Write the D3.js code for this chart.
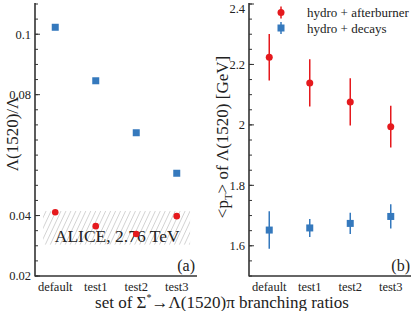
<!DOCTYPE html>
<html><head><meta charset="utf-8">
<script src="https://cdn.jsdelivr.net/npm/d3@7"></script>
<style>
body{margin:0;background:#fff;}
text{font-family:"Liberation Serif","Times New Roman",serif;fill:#222;}
</style></head>
<body>
<svg id="c" width="415" height="311"></svg>
<script>
const categories = ["default","test1","test2","test3"];
// panel (a): ratio Λ(1520)/Λ
const ratioDecays = [0.1023, 0.0846, 0.0674, 0.0540];
const ratioAfterburner = [0.0411, 0.0365, 0.0339, 0.0398];
const aliceBand = [0.0304, 0.0415];
const aliceLabel = "ALICE, 2.76 TeV";
const ratioMajorTicks = [0.02, 0.04, 0.08, 0.1];
// panel (b): mean pT
const ptAfterburner = [2.224, 2.139, 2.076, 1.994];
const ptAfterburnerErr = [0.077, 0.078, 0.078, 0.069];
const ptDecays = [1.652, 1.659, 1.674, 1.697];
const ptDecaysErr = [0.062, 0.030, 0.035, 0.040];
const ptMajorTicks = [1.6, 1.8, 2, 2.2, 2.4];
const legendLabels = ["hydro + afterburner", "hydro + decays"];

const RED = "#e5191d", BLUE = "#3579bd", AX = "#333";
const svg = d3.select("#c");

// hatch pattern
const defs = svg.append("defs");
const pat = defs.append("pattern").attr("id","hatch").attr("patternUnits","userSpaceOnUse")
  .attr("width",4.5).attr("height",4.5).attr("patternTransform","rotate(25)");
pat.append("line").attr("x1",0).attr("y1",0).attr("x2",0).attr("y2",4.5)
  .attr("stroke","#999").attr("stroke-width",0.8);

function panel(opts){
  const g = svg.append("g");
  const x = d3.scaleLinear().domain([-0.5,3.5]).range(opts.xr);
  const y = d3.scaleLinear().domain(opts.yd).range([276,4]);
  const minor = d3.range(opts.yd[0], opts.yd[1]+1e-9, opts.minorStep);
  g.selectAll(".mn").data(minor).enter().append("line")
    .attr("x1",opts.xr[0]).attr("x2",opts.xr[0]+3)
    .attr("y1",d=>y(d)).attr("y2",d=>y(d)).attr("stroke",AX).attr("stroke-width",1);
  g.selectAll(".mj").data(opts.major).enter().append("line")
    .attr("x1",opts.xr[0]).attr("x2",opts.xr[0]+5)
    .attr("y1",d=>y(d)).attr("y2",d=>y(d)).attr("stroke",AX).attr("stroke-width",1);
  g.selectAll(".tl").data(opts.major).enter().append("text")
    .attr("x",opts.xr[0]-4).attr("y",d=>Math.max(y(d),9)).attr("dy","0.35em")
    .attr("text-anchor","end").attr("font-size",12.5).text(opts.fmt);
  g.append("line").attr("x1",opts.xr[0]).attr("x2",opts.xr[0]).attr("y1",3).attr("y2",276.5)
    .attr("stroke",AX).attr("stroke-width",1.6);
  g.append("line").attr("x1",opts.xr[0]).attr("x2",opts.xr[1]).attr("y1",276).attr("y2",276)
    .attr("stroke",AX).attr("stroke-width",1.6);
  g.selectAll(".cl").data(categories).enter().append("text")
    .attr("x",(d,i)=>x(i)).attr("y",291).attr("text-anchor","middle")
    .attr("font-size",12.5).text(d=>d);
  return {g,x,y};
}

// Panel (a)
const A = panel({xr:[35,197], yd:[0.02,0.11], minorStep:0.005, major:ratioMajorTicks,
  fmt:d=>d3.format("~g")(d)});
A.g.insert("rect",":first-child")
  .attr("x",A.x(-0.3)).attr("width",A.x(3.33)-A.x(-0.3))
  .attr("y",A.y(aliceBand[1])).attr("height",A.y(aliceBand[0])-A.y(aliceBand[1]))
  .attr("fill","url(#hatch)");
A.g.append("text").attr("x",A.x(1.53)).attr("y",242).attr("text-anchor","middle")
  .attr("font-size",17.5).text(aliceLabel);
A.g.selectAll(".sq").data(ratioDecays).enter().append("rect")
  .attr("x",(d,i)=>A.x(i)-3.5).attr("y",d=>A.y(d)-3.5).attr("width",7).attr("height",7).attr("fill",BLUE);
A.g.selectAll(".ci").data(ratioAfterburner).enter().append("circle")
  .attr("cx",(d,i)=>A.x(i)).attr("cy",d=>A.y(d)).attr("r",3.3).attr("fill",RED);
A.g.append("text").attr("x",195).attr("y",271).attr("text-anchor","end").attr("font-size",16).text("(a)");
A.g.append("text").attr("transform","translate(18,134) rotate(-90)").attr("text-anchor","middle")
  .attr("font-size",17).text("Λ(1520)/Λ");

// Panel (b)
const B = panel({xr:[249,411], yd:[1.5,2.4], minorStep:0.05, major:ptMajorTicks,
  fmt:d=>d3.format("~g")(d)});
function errSeries(vals, errs, color, shape){
  B.g.selectAll(null).data(vals).enter().append("line")
    .attr("x1",(d,i)=>B.x(i)).attr("x2",(d,i)=>B.x(i))
    .attr("y1",(d,i)=>B.y(d+errs[i])).attr("y2",(d,i)=>B.y(d-errs[i]))
    .attr("stroke",color).attr("stroke-width",1.5);
  if(shape==="c"){
    B.g.selectAll(null).data(vals).enter().append("circle")
      .attr("cx",(d,i)=>B.x(i)).attr("cy",d=>B.y(d)).attr("r",3.5).attr("fill",color);
  } else {
    B.g.selectAll(null).data(vals).enter().append("rect")
      .attr("x",(d,i)=>B.x(i)-3.5).attr("y",d=>B.y(d)-3.5).attr("width",7).attr("height",7).attr("fill",color);
  }
}
errSeries(ptAfterburner, ptAfterburnerErr, RED, "c");
errSeries(ptDecays, ptDecaysErr, BLUE, "s");
B.g.append("text").attr("x",410).attr("y",271).attr("text-anchor","end").attr("font-size",16).text("(b)");
const yl = B.g.append("text").attr("transform","translate(228,137) rotate(-90)").attr("text-anchor","middle")
  .attr("font-size",17);
yl.append("tspan").text("<p");
yl.append("tspan").attr("font-size",11).attr("dy",4).text("T");
yl.append("tspan").attr("dy",-4).text("> of Λ(1520) [GeV]");

// legend
const lg = svg.append("g");
const lx = 281;
[[12.5,RED,"c"],[28,BLUE,"s"]].forEach((e,i)=>{
  lg.append("line").attr("x1",lx).attr("x2",lx).attr("y1",e[0]-6).attr("y2",e[0]+6)
    .attr("stroke",e[1]).attr("stroke-width",1.5);
  if(e[2]==="c") lg.append("circle").attr("cx",lx).attr("cy",e[0]).attr("r",3.5).attr("fill",e[1]);
  else lg.append("rect").attr("x",lx-3.5).attr("y",e[0]-3.5).attr("width",7).attr("height",7).attr("fill",e[1]);
  lg.append("text").attr("x",307).attr("y",e[0]).attr("dy","0.35em").attr("font-size",13).text(legendLabels[i]);
});

// x title
const xt = svg.append("text").attr("x",222).attr("y",308).attr("text-anchor","middle").attr("font-size",17);
xt.append("tspan").text("set of Σ");
xt.append("tspan").attr("font-size",10).attr("dy",-7).text("*");
xt.append("tspan").attr("dy",7).text("→Λ(1520)π branching ratios");
</script>
</body></html>
